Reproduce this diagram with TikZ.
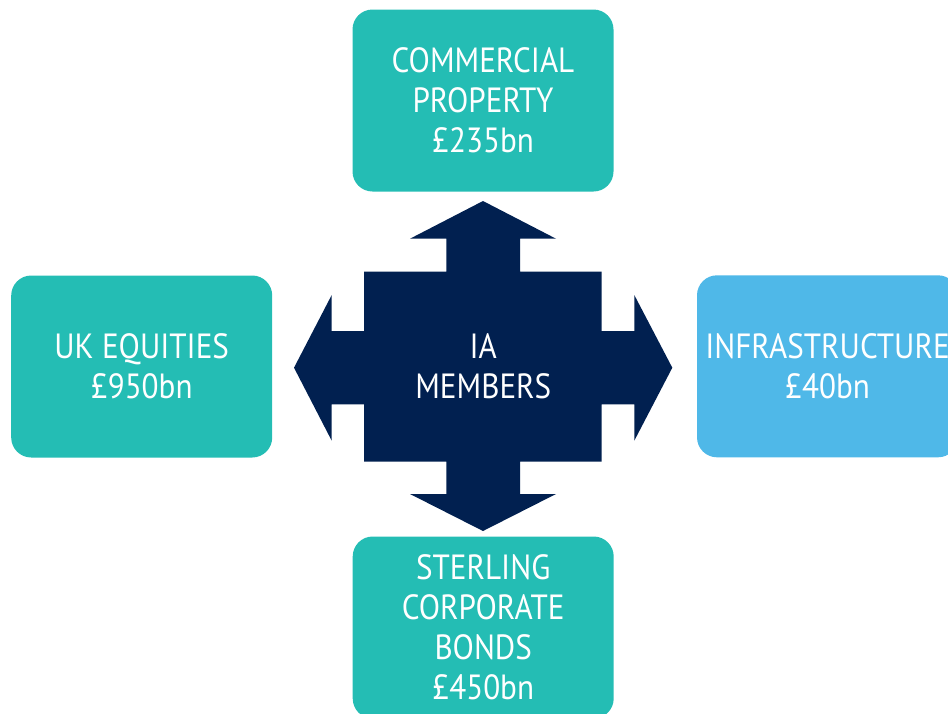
\documentclass[tikz,border=0pt]{standalone}
\usepackage{fontspec}
\setmainfont{PT Sans}[FakeStretch=0.89]
\definecolor{teal}{HTML}{24BDB4}
\definecolor{skyb}{HTML}{4FB8E8}
\definecolor{navy}{HTML}{012050}
\begin{document}
\begin{tikzpicture}[x=1pt,y=-1pt,
  box/.style={rectangle, rounded corners=20pt, minimum width=261pt, minimum height=182pt,
    inner sep=0pt, text=white, align=center, font=\fontsize{35}{40}\selectfont},
  lbl/.style={text=white, align=center, inner sep=0pt, font=\fontsize{35}{40}\selectfont}]
\useasboundingbox (0,0) rectangle (948,713);
\begin{scope}
\clip (0,0) rectangle (948,713);
\node[box, fill=teal] (prop) at (483,100.5) {COMMERCIAL\\PROPERTY\\£235bn};
\node[box, fill=teal] (equ) at (141.7,366.5) {UK EQUITIES\\£950bn};
\node[box, fill=skyb] (infra) at (827.5,366.3) {INFRASTRUCTURE\\£40bn};
\node[box, fill=teal] (bonds) at (483.2,627.5) {STERLING\\CORPORATE\\BONDS\\£450bn};
\end{scope}
\fill[navy] (483,201) -- (556,238.7) -- (520,238.7) -- (520,271.7) -- (601.7,271.7)
  -- (601.7,331) -- (634.3,331) -- (634.3,295) -- (672.3,367.7) -- (634.3,440.7)
  -- (634.3,404.3) -- (601.7,404.3) -- (601.7,461.7) -- (520,461.7) -- (520,494)
  -- (556,494) -- (483,531) -- (410,494) -- (446.3,494) -- (446.3,461.7)
  -- (364,461.7) -- (364,404.3) -- (331.7,404.3) -- (331.7,440.7) -- (294,367.7)
  -- (331.7,295) -- (331.7,331) -- (364,331) -- (364,271.7) -- (446.3,271.7)
  -- (446.3,238.7) -- (410,238.7) -- cycle;
\node[lbl] (ia) at (483.3,366) {IA\\MEMBERS};
\end{tikzpicture}
\end{document}
